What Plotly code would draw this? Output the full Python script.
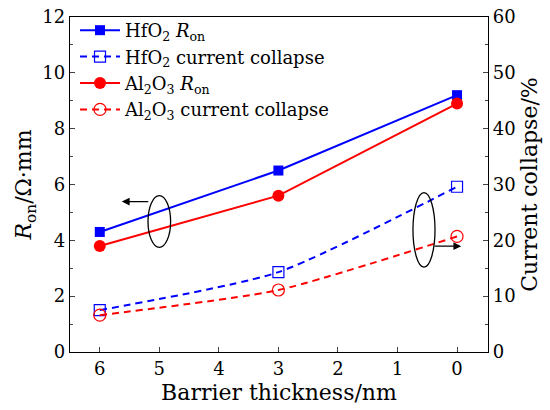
import plotly.graph_objects as go

thickness = [6, 3, 0]
hfo2_ron = [4.3, 6.5, 9.2]
al2o3_ron = [3.8, 5.6, 8.9]
hfo2_cc = [7.5, 14.3, 29.6]
al2o3_cc = [6.6, 11.1, 20.7]

names = ["HfO<sub>2</sub> <i>R</i><sub>on</sub>",
         "HfO<sub>2</sub> current collapse",
         "Al<sub>2</sub>O<sub>3</sub> <i>R</i><sub>on</sub>",
         "Al<sub>2</sub>O<sub>3</sub> current collapse"]

BLUE = "#0000FF"
RED = "#FF0000"
FONT = "DejaVu Serif"

fig = go.Figure()
fig.add_trace(go.Scatter(x=thickness, y=hfo2_ron, name=names[0], mode="lines+markers",
                         line=dict(color=BLUE, width=2),
                         marker=dict(symbol="square", size=10, color=BLUE)))
fig.add_trace(go.Scatter(x=thickness, y=hfo2_cc, name=names[1], mode="lines+markers", yaxis="y2",
                         line=dict(color=BLUE, width=2, dash="7px,5px", shape="spline", smoothing=0.6),
                         marker=dict(symbol="square-open", size=11, color=BLUE, line=dict(width=1.2))))
fig.add_trace(go.Scatter(x=thickness, y=al2o3_ron, name=names[2], mode="lines+markers",
                         line=dict(color=RED, width=2),
                         marker=dict(symbol="circle", size=12, color=RED)))
fig.add_trace(go.Scatter(x=thickness, y=al2o3_cc, name=names[3], mode="lines+markers", yaxis="y2",
                         line=dict(color=RED, width=2, dash="7px,5px", shape="spline", smoothing=0.6),
                         marker=dict(symbol="circle-open", size=12, color=RED, line=dict(width=1.2))))

# ellipses (decorations)
fig.add_shape(type="circle", xref="x", yref="y", x0=5.19, x1=4.81, y0=3.75, y1=5.6,
              line=dict(color="black", width=1.3))
fig.add_shape(type="circle", xref="x", yref="y", x0=0.74, x1=0.37, y0=3.04, y1=5.71,
              line=dict(color="black", width=1.3))
fig.add_annotation(x=5.63, y=5.39, ax=5.16, ay=5.39, xref="x", yref="y", axref="x", ayref="y",
                   showarrow=True, arrowhead=2, arrowsize=1.2, arrowwidth=1.3, arrowcolor="black", text="")
fig.add_annotation(x=-0.07, y=3.79, ax=0.40, ay=3.79, xref="x", yref="y", axref="x", ayref="y",
                   showarrow=True, arrowhead=2, arrowsize=1.2, arrowwidth=1.3, arrowcolor="black", text="")

fig.update_layout(
    width=550, height=410,
    margin=dict(l=70, r=62, t=17, b=58, autoexpand=False),
    paper_bgcolor="white", plot_bgcolor="white",
    font=dict(family=FONT, size=18, color="black"),
    showlegend=True,
    legend=dict(x=0.012, y=1.015, xanchor="left", yanchor="top", bgcolor="rgba(0,0,0,0)",
                font=dict(family=FONT, size=18), itemwidth=40, tracegroupgap=0),
    xaxis=dict(range=[6.5, -0.52], tickvals=[6, 5, 4, 3, 2, 1, 0], ticks="inside", ticklen=5,
               showline=True, linecolor="black", linewidth=1.3, mirror=True, showgrid=False,
               zeroline=False, automargin=False, title=dict(text="Barrier thickness/nm", standoff=6)),
    yaxis=dict(range=[0, 12], tickvals=[0, 2, 4, 6, 8, 10, 12], ticks="inside", ticklen=5,
               minor=dict(tickvals=[1, 3, 5, 7, 9, 11], ticks="inside", ticklen=3),
               showline=True, linecolor="black", linewidth=1.3, showgrid=False, zeroline=False,
               automargin=False, title=dict(text="<i>R</i><sub>on</sub>/Ω·mm", standoff=4)),
    yaxis2=dict(range=[0, 60], tickvals=[0, 10, 20, 30, 40, 50, 60], ticks="inside", ticklen=5,
                minor=dict(tickvals=[5, 15, 25, 35, 45, 55], ticks="inside", ticklen=3),
                overlaying="y", side="right", showline=True, linecolor="black", linewidth=1.3,
                showgrid=False, zeroline=False, automargin=False,
                title=dict(text="Current collapse/%", standoff=6)),
)

fig.write_html("out.html")
